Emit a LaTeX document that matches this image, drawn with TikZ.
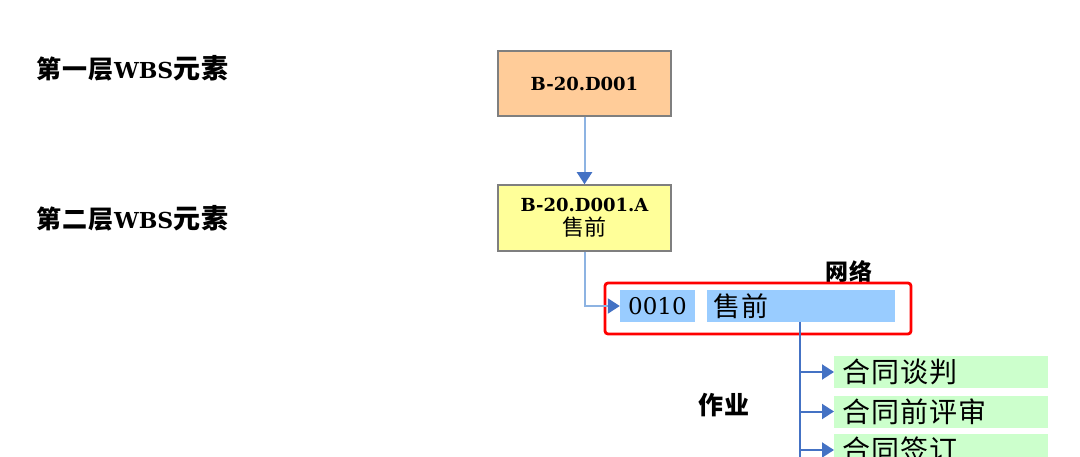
\documentclass[tikz,border=0pt]{standalone}
\usepackage{fontspec}
\setmainfont{DejaVu Serif}
\newfontfamily\cjk{Noto Sans CJK SC}
\newfontfamily\cjks[LetterSpace=4]{Noto Sans CJK SC}
\usetikzlibrary{arrows.meta}
\definecolor{orangebox}{HTML}{FFCC99}
\definecolor{yellowbox}{HTML}{FFFF99}
\definecolor{bluebox}{HTML}{99CCFF}
\definecolor{greenbox}{HTML}{CCFFCC}
\definecolor{lineblue}{HTML}{8DB3E2}
\definecolor{darkblue}{HTML}{4472C4}
\definecolor{boxborder}{HTML}{7F7F7F}
\tikzset{
  wbsbox/.style={draw=boxborder, line width=1.5pt, minimum width=173pt, align=center, inner sep=0pt},
  netbox/.style={fill=bluebox, minimum height=32pt, inner sep=0pt},
  actbox/.style={fill=greenbox, minimum width=214pt, minimum height=32pt, text width=198pt, inner xsep=8pt, inner ysep=0pt, align=left, anchor=west},
  levellabel/.style={anchor=west, inner sep=0pt, font=\fontsize{22}{26}\selectfont},
  toparr/.style={draw=lineblue, line width=2pt, -{Triangle[length=12pt,width=15pt,color=darkblue]}},
  botarr/.style={draw=darkblue, line width=2pt, -{Triangle[length=12pt,width=15pt,color=darkblue]}},
}
\begin{document}
\begin{tikzpicture}[x=1pt,y=-1pt]
\useasboundingbox (0,0) rectangle (1080,457);
\clip (0,0) rectangle (1080,457);
% level labels
\node[levellabel] (l1) at (36,68) {{\cjks\bfseries\fontsize{25}{26}\selectfont 第一层}\textbf{WBS}{\cjks\bfseries\fontsize{27}{26}\selectfont 元素}};
\node[levellabel] (l2) at (36,218) {{\cjks\bfseries\fontsize{25}{26}\selectfont 第二层}\textbf{WBS}{\cjks\bfseries\fontsize{27}{26}\selectfont 元素}};
% WBS boxes
\node[wbsbox, fill=orangebox, minimum height=65pt, font=\fontsize{18}{22}\selectfont\bfseries] (w1) at (584.5,83.5) {B-20.D001};
\node[wbsbox, fill=yellowbox, minimum height=66pt, font=\fontsize{18}{24}\selectfont\bfseries] (w2) at (584.5,218) {B-20.D001.A\\{\cjks\mdseries\fontsize{22}{24}\selectfont 售前}};
\draw[toparr] (w1.south) -- (w2.north);
% network
\node[font=\cjks\bfseries\fontsize{23}{24}\selectfont, inner sep=0pt] (netlabel) at (849,272) {网络};
\node[netbox, minimum width=75pt, font=\fontsize{23}{26}\selectfont] (n1) at (657.5,306) {0010};
\node[netbox, minimum width=188pt, text width=176pt, inner xsep=6pt, align=left, font=\cjks\fontsize{27}{28}\selectfont] (n2) at (801,306) {售前};
\draw[red, line width=2.8pt, rounded corners=3pt] (605,283) rectangle (911,334);
\draw[toparr] (w2.south) |- (n1.west);
% activities
\node[font=\cjks\bfseries\fontsize{25}{26}\selectfont, inner sep=0pt] (actlabel) at (724,405) {作业};
\node[actbox, font=\cjks\fontsize{28}{30}\selectfont] (a1) at (834,372) {合同谈判};
\node[actbox, font=\cjks\fontsize{28}{30}\selectfont] (a2) at (834,411.5) {合同前评审};
\node[actbox, font=\cjks\fontsize{28}{30}\selectfont] (a3) at (834,450) {合同签订};
\coordinate (trunktop) at (800,322);
\coordinate (trunkend) at (800,470);
\draw[draw=darkblue, line width=2pt] (trunktop) -- (trunkend);
\draw[botarr] (trunktop |- a1.west) -- (a1.west);
\draw[botarr] (trunktop |- a2.west) -- (a2.west);
\draw[botarr] (trunktop |- a3.west) -- (a3.west);
\end{tikzpicture}
\end{document}
